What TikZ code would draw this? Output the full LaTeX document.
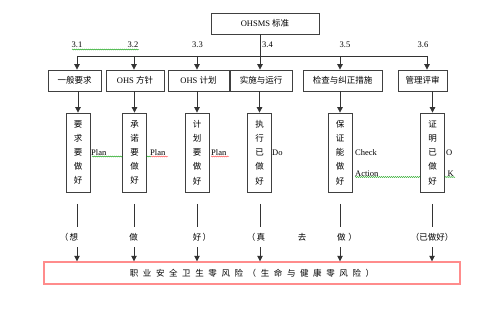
\documentclass[tikz,border=0pt]{standalone}
\usepackage{fontspec}
\setmainfont{Liberation Serif}
\newfontfamily\cjk{Noto Sans CJK SC}
\usetikzlibrary{arrows.meta,decorations.pathmorphing}
\newcommand\gp{\hspace{4.6pt}}
\begin{document}
\begin{tikzpicture}[x=1pt,y=-1pt,
  ln/.style={draw=black!80, line width=0.8pt},
  arr/.style={ln,-{Triangle[width=5.5pt,length=5.5pt]}},
  rowbox/.style={draw=black!75, line width=0.8pt, minimum height=21pt, inner sep=0pt, font=\fontsize{8.5}{10}\selectfont},
  vbox/.style={draw=black!75, line width=0.8pt, minimum width=24pt, minimum height=79pt, inner sep=0pt, align=center, font=\cjk\fontsize{8.5}{14.2}\selectfont},
  lbl/.style={inner sep=0pt, font=\fontsize{8.5}{10}\selectfont},
  clbl/.style={inner sep=0pt, font=\cjk\fontsize{8.5}{10}\selectfont},
  grn/.style={draw=green!60!black, line width=0.4pt, decorate, decoration={snake,amplitude=0.5pt,segment length=2pt}},
  rd/.style={draw=red!75, line width=0.4pt, decorate, decoration={snake,amplitude=0.5pt,segment length=2pt}}]
\useasboundingbox (0,0) rectangle (500,312);

% top box
\node[rowbox, minimum width=108pt] (top) at (265,23.5) {OHSMS {\cjk 标准}};

% row boxes
\node[rowbox, minimum width=53pt] (b1) at (74.5,80.5) {\cjk 一般要求};
\node[rowbox, minimum width=58pt] (b2) at (135,80.5) {OHS {\cjk 方针}};
\node[rowbox, minimum width=61pt] (b3) at (198.5,80.5) {OHS {\cjk 计划}};
\node[rowbox, minimum width=62pt] (b4) at (261,80.5) {\cjk 实施与运行};
\node[rowbox, minimum width=79pt] (b5) at (342.5,80.5) {\cjk 检查与纠正措施};
\node[rowbox, minimum width=49pt] (b6) at (422.5,80.5) {\cjk 管理评审};

% bus
\coordinate (c1) at (77,56);
\coordinate (c2) at (134,56);
\coordinate (c3) at (197,56);
\coordinate (c4) at (260,56);
\coordinate (c5) at (340,56);
\coordinate (c6) at (427,56);
\draw[ln] (c1) -- (c6);
\draw[ln] (c4 |- top.south) -- (c4);
\foreach \i in {1,...,6} {\draw[arr] (c\i) -- (c\i |- b\i.north);}

% section labels
\node[lbl] (s1) at (77,45) {3.1};
\node[lbl] (s2) at (133,45) {3.2};
\node[lbl] (s3) at (197.5,45) {3.3};
\node[lbl] (s4) at (267.5,45) {3.4};
\node[lbl] (s5) at (345,45) {3.5};
\node[lbl] (s6) at (423,45) {3.6};
\draw[grn] (72,49.5) -- (139,49.5);

% vertical boxes
\node[vbox] (v1) at (78,152.5) {要\\求\\要\\做\\好};
\node[vbox] (v2) at (134.5,152.5) {承\\诺\\要\\做\\好};
\node[vbox] (v3) at (197,152.5) {计\\划\\要\\做\\好};
\node[vbox] (v4) at (259.5,152.5) {执\\行\\已\\做\\好};
\node[vbox] (v5) at (340,152.5) {保\\证\\能\\做\\好};
\node[vbox] (v6) at (432.5,152.5) {证\\明\\已\\做\\好};

\foreach \i in {1,...,6} {\draw[arr] (v\i.north |- b\i.south) -- (v\i.north);}

% PDCA labels
\node[lbl, anchor=west] (p1) at (91,153) {Plan};
\node[lbl, anchor=west] (p2) at (150,153) {Plan};
\node[lbl, anchor=west] (p3) at (211,153) {Plan};
\node[lbl, anchor=west] (d4) at (272,152.5) {Do};
\node[lbl, anchor=west] (ck) at (355,152.5) {Check};
\node[lbl, anchor=west] (ac) at (355,173.5) {Action};
\node[lbl, anchor=west] (o6) at (446,152.5) {O};
\node[lbl, anchor=west] (k6) at (447.5,173.5) {K};
\draw[grn] (92,156.5) -- (122.5,156.5);
\draw[grn] (146.5,156.5) -- (151,156.5);
\draw[rd] (151,156.5) -- (168,156.5);
\draw[rd] (211,156.5) -- (229,156.5);
\draw[grn] (355,177) -- (420.5,177);
\draw[grn] (444.5,177) -- (455,177);

% lower lines
\foreach \n/\x in {1/77,2/134,3/197,4/260,5/340,6/432} {
  \coordinate (u\n) at (\x,204);
  \coordinate (w\n) at (\x,227);
  \coordinate (a\n) at (\x,247);
  \draw[ln] (u\n) -- (w\n);
}

% lower labels
\node[clbl] (l1) at (69,237) {（\,想};
\node[clbl] (l2) at (133.5,237) {做};
\node[clbl] (l3) at (202,237) {好\,）};
\node[clbl] (l4) at (256,237) {（\,真};
\node[clbl] (l5) at (302,237) {去};
\node[clbl] (l6) at (347,237) {做\,\,）};
\node[clbl] (l7) at (432,237) {（已做好）};

% bottom red box
\node[draw=red!45, line width=1.4pt, minimum width=416pt, minimum height=22pt, inner sep=0pt, font=\cjk\fontsize{8.5}{10}\selectfont] (risk) at (252,273)
  {职\gp 业\gp 安\gp 全\gp 卫\gp 生\gp 零\gp 风\gp 险\gp （\gp 生\gp 命\gp 与\gp 健\gp 康\gp 零\gp 风\gp 险\gp ）};
\foreach \n in {1,...,6} {\draw[arr] (a\n) -- (a\n |- risk.north);}
\end{tikzpicture}
\end{document}
